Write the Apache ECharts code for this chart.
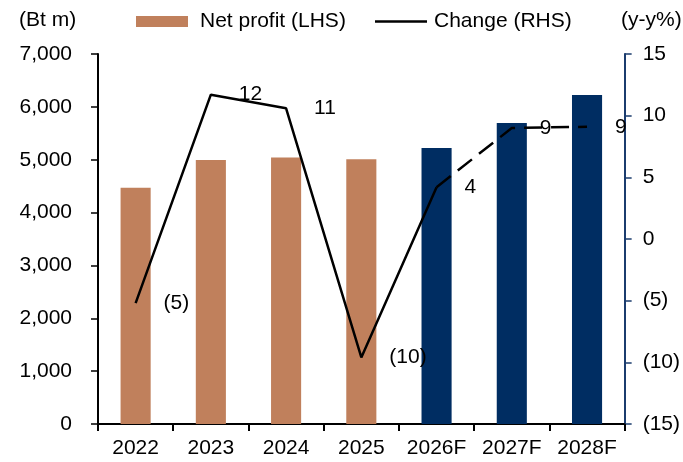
<!DOCTYPE html>
<html>
<head>
<meta charset="utf-8">
<script src="https://cdn.jsdelivr.net/npm/echarts@6/dist/echarts.min.js"></script>
<style>
  html, body { margin: 0; padding: 0; background: #fff; }
  #chart { width: 683px; height: 462px; }
</style>
</head>
<body>
<div id="chart"></div>
<script>
// data
const years = ['2022', '2023', '2024', '2025', '2026F', '2027F', '2028F']
const netProfit = [4470, 4995, 5040, 5010, 5220, 5695, 6225]
const changePct = [-5.2, 11.7, 10.6, -9.6, 4.2, 9.0, 9.1]
const forecastFrom = 4 // index of 2026F

const FONT = "'Liberation Sans', Arial, sans-serif"
const FS = 21
const BROWN = '#C0805C'
const NAVY = '#002D62'

// 千位分隔
const fmtThousands = v => String(v).replace(/\B(?=(\d{3})+(?!\d))/g, ',')
// negatives in brackets
const fmtPct = v => {
  const r = Math.round(v)
  return r < 0 ? '(' + Math.abs(r) + ')' : String(r)
}

const solidPart = changePct.map((v, i) => (i <= forecastFrom ? v : null))
const dashedPart = changePct.map((v, i) => (i >= forecastFrom ? v : null))

const chart = echarts.init(document.getElementById('chart'))

const labelStyle = {
  show: true,
  position: 'right',
  distance: 28,
  color: '#000',
  fontSize: FS,
  fontFamily: FONT,
  formatter: p => fmtPct(p.value)
}

const option = {
  animation: false,
  textStyle: { fontFamily: FONT },
  legend: [
    {
      left: 136,
      top: 11,
      padding: 0,
      itemWidth: 52,
      itemHeight: 11,
      data: [{ name: 'Net profit (LHS)', icon: 'rect' }],
      textStyle: { fontSize: FS, color: '#000', fontFamily: FONT, padding: [0, 0, 0, 7] }
    },
    {
      left: 375,
      top: 11,
      padding: 0,
      itemWidth: 52,
      itemHeight: 2.5,
      data: [{ name: 'Change (RHS)', icon: 'rect', itemStyle: { color: '#000' } }],
      textStyle: { fontSize: FS, color: '#000', fontFamily: FONT, padding: [0, 0, 0, 2] }
    }
  ],
  graphic: [
    {
      type: 'text',
      left: 19,
      top: 10,
      style: { text: '(Bt m)', fontSize: FS, fontFamily: FONT, fill: '#000' }
    },
    {
      type: 'text',
      left: 621,
      top: 10,
      style: { text: '(y-y%)', fontSize: FS, fontFamily: FONT, fill: '#000' }
    }
  ],
  grid: {
    left: 98,
    right: 54,
    top: 54,
    bottom: 38
  },
  xAxis: {
    type: 'category',
    data: years,
    boundaryGap: true,
    axisLine: { onZero: false, lineStyle: { color: '#000', width: 2 } },
    axisTick: { show: true, interval: 0, length: 7, lineStyle: { color: '#000', width: 2 } },
    axisLabel: { color: '#000', fontSize: FS, fontFamily: FONT, margin: 14, interval: 0, hideOverlap: false }
  },
  yAxis: [
    {
      type: 'value',
      min: 0,
      max: 7000,
      interval: 1000,
      position: 'left',
      splitLine: { show: false },
      axisLine: { show: true, lineStyle: { color: '#000', width: 2 } },
      axisTick: { show: true, length: 7, lineStyle: { color: '#000', width: 1.5 } },
      axisLabel: { color: '#000', fontSize: FS, fontFamily: FONT, margin: 26, formatter: fmtThousands }
    },
    {
      type: 'value',
      min: -15,
      max: 15,
      interval: 5,
      position: 'right',
      splitLine: { show: false },
      axisLine: { show: true, lineStyle: { color: '#1B3C6E', width: 2 } },
      axisTick: { show: true, length: 7, lineStyle: { color: '#1B3C6E', width: 1.5 } },
      axisLabel: { color: '#000', fontSize: FS, fontFamily: FONT, margin: 18, formatter: fmtPct }
    }
  ],
  series: [
    {
      name: 'Net profit (LHS)',
      type: 'bar',
      yAxisIndex: 0,
      barWidth: '40%',
      data: netProfit.map((v, i) => ({
        value: v,
        itemStyle: { color: i >= forecastFrom ? NAVY : BROWN }
      })),
      itemStyle: { color: BROWN }
    },
    {
      name: 'Change (RHS)',
      type: 'line',
      yAxisIndex: 1,
      symbol: 'circle',
      symbolSize: 0,
      showSymbol: true,
      z: 5,
      data: solidPart,
      lineStyle: { color: '#000', width: 2.5 },
      itemStyle: { color: '#000' },
      label: labelStyle,
      connectNulls: false
    },
    {
      name: 'Change forecast',
      type: 'line',
      yAxisIndex: 1,
      symbol: 'circle',
      symbolSize: 0,
      showSymbol: true,
      z: 5,
      data: dashedPart,
      lineStyle: { color: '#000', width: 2.5, type: [18, 9] },
      itemStyle: { color: '#000' },
      label: {
        ...labelStyle,
        formatter: p => (p.dataIndex > forecastFrom ? fmtPct(p.value) : '')
      }
    }
  ]
}

chart.setOption(option)
</script>
</body>
</html>
